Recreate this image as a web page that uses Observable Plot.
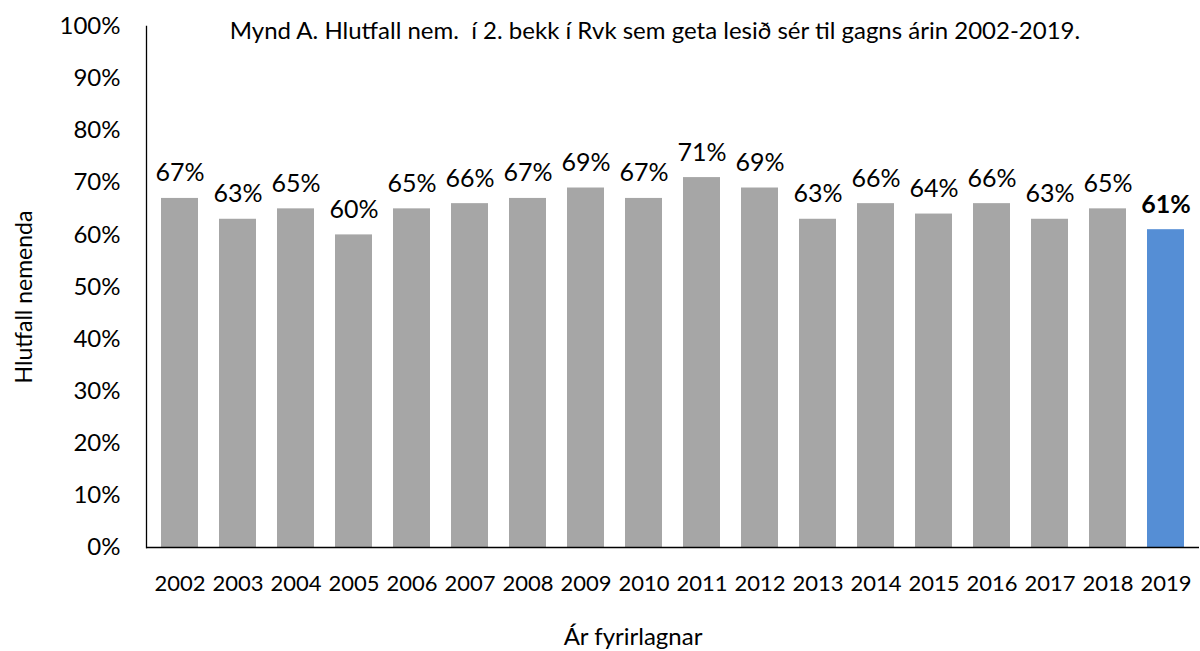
<!DOCTYPE html>
<html>
<head>
<meta charset="utf-8">
<script src="https://cdn.jsdelivr.net/npm/d3@7"></script>
<script src="https://cdn.jsdelivr.net/npm/@observablehq/plot@0.6"></script>
<style>
  html, body { margin: 0; padding: 0; background: #fff; }
  svg text { white-space: pre; }
</style>
</head>
<body>
<div id="chart"></div>
<script>
const years = ["2002","2003","2004","2005","2006","2007","2008","2009","2010","2011","2012","2013","2014","2015","2016","2017","2018","2019"];
const shares = [67,63,65,60,65,66,67,69,67,71,69,63,66,64,66,63,65,61];
const yTicks = [0,10,20,30,40,50,60,70,80,90,100];
const highlightYear = "2019";
const titleText = "Mynd A. Hlutfall nem.  í 2. bekk í Rvk sem geta lesið sér til gagns árin 2002-2019.";
const yLabel = "Hlutfall nemenda";
const xLabel = "Ár fyrirlagnar";

const data = years.map((y, i) => ({year: y, value: shares[i], hl: y === highlightYear}));

const chart = Plot.plot({
  width: 1200,
  height: 651,
  marginLeft: 146,
  marginRight: 1,
  marginTop: 26,
  marginBottom: 104,
  style: {fontFamily: "Lato, 'Open Sans', sans-serif", fontSize: "23px", color: "#000", background: "#fff"},
  x: {domain: years, paddingInner: 0.36, paddingOuter: 0.18},
  y: {domain: [0, 100]},
  marks: [
    Plot.barY(data, {x: "year", y: "value", fill: d => d.hl ? "#558ED5" : "#A6A6A6"}),
    Plot.axisY({ticks: yTicks, tickFormat: d => d + "%", tickSize: 0, tickPadding: 26, fontSize: 24, label: null}),
    Plot.axisX({tickSize: 0, tickPadding: 28, fontSize: 22, label: null}),
    Plot.frame({anchor: "left", stroke: "#000", strokeWidth: 1.3}),
    Plot.ruleY([0], {stroke: "#000", strokeWidth: 1.3}),
    Plot.text(data.filter(d => !d.hl), {x: "year", y: "value", text: d => d.value + "%", dy: -25, fontSize: 25, fill: "#000"}),
    Plot.text(data.filter(d => d.hl), {x: "year", y: "value", text: d => d.value + "%", dy: -25, fontSize: 25, fontWeight: "bold", fill: "#000"}),
    Plot.text([titleText], {frameAnchor: "top", text: d => d, lineAnchor: "middle", dx: -18, dy: 5, fontSize: 24, fill: "#000"}),
    Plot.text([xLabel], {frameAnchor: "bottom", text: d => d, lineAnchor: "middle", textAnchor: "middle", dx: -40, dy: 90, fontSize: 24, fill: "#000"}),
    Plot.text([yLabel], {frameAnchor: "left", text: d => d, rotate: -90, lineAnchor: "middle", textAnchor: "middle", dx: -122, dy: 10, fontSize: 23, fill: "#000"})
  ]
});
document.getElementById("chart").appendChild(chart);
</script>
</body>
</html>
